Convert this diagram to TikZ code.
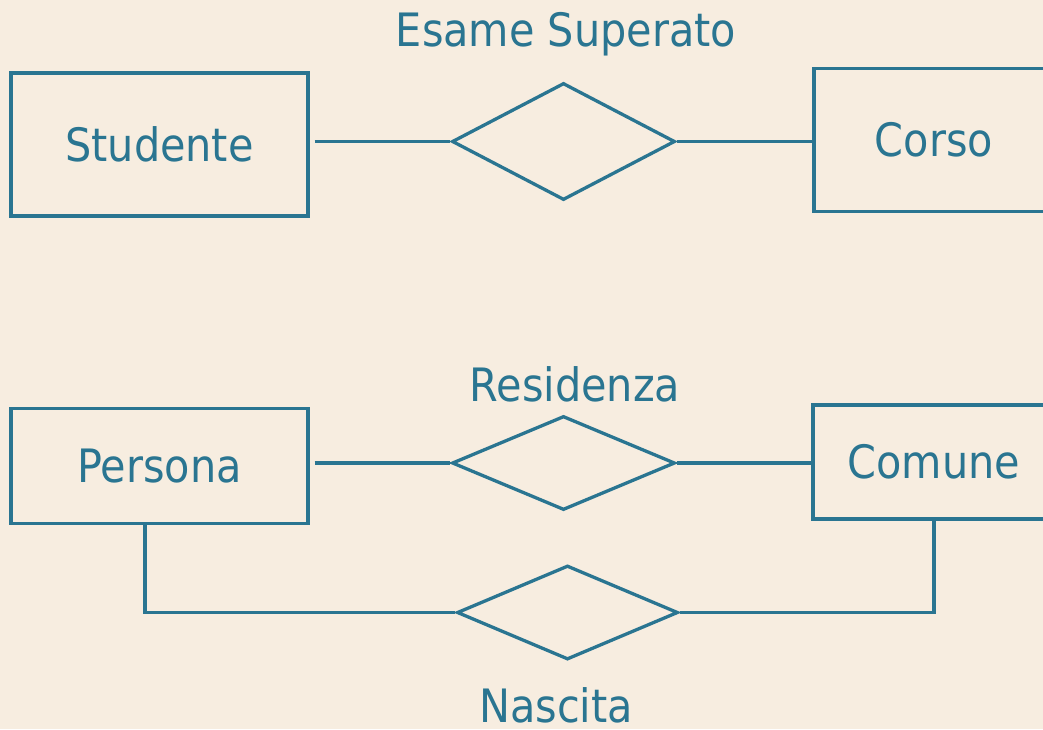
\documentclass[tikz,border=0pt]{standalone}
\usepackage{fontspec}
\setmainfont{DejaVu Sans Condensed}
\usetikzlibrary{shapes.geometric}
\definecolor{ink}{RGB}{42,117,145}
\definecolor{paper}{RGB}{247,237,224}
\tikzset{
  entity/.style={draw=ink, line width=3.3pt, rectangle, inner sep=0pt, text=ink,
    font=\fontsize{46}{55}\selectfont},
  relation/.style={draw=ink, line width=3.3pt, diamond, inner sep=0pt},
  lbl/.style={text=ink, font=\fontsize{46}{55}\selectfont, anchor=base, inner sep=0pt, text depth=0pt},
  link/.style={draw=ink, line width=3.3pt}
}
\begin{document}
\begin{tikzpicture}[x=1pt,y=-1pt]
\useasboundingbox (0,0) rectangle (1043,729);
\fill[paper] (0,0) rectangle (1043,729);
\clip (0,0) rectangle (1043,729);
% entities
\node[entity, minimum width=297pt, minimum height=143pt] (studente) at (159.5,144.5) {Studente};
\node[entity, minimum width=240pt, minimum height=143pt] (corso) at (934,140) {Corso};
\node[entity, minimum width=297pt, minimum height=115pt] (persona) at (159.5,466) {Persona};
\node[entity, minimum width=242pt, minimum height=114pt] (comune) at (934,462) {Comune};
% relations
\node[relation, minimum width=223pt, minimum height=117pt] (esame) at (563.5,141.5) {};
\node[relation, minimum width=223pt, minimum height=94pt] (residenza) at (563.5,463) {};
\node[relation, minimum width=221pt, minimum height=94pt] (nascita) at (567.5,612.5) {};
% labels
\node[lbl] (lesame) at (566,46) {Esame Superato};
\node[lbl] (lres) at (575,401) {Residenza};
\node[lbl] (lnas) at (556,722) {Nascita};
% connectors
\draw[link, shorten <=5pt] (studente.east |- esame.west) -- (esame.west);
\draw[link] (esame.east) -- (corso.west |- esame.east);
\draw[link, shorten <=5pt] (persona.east |- residenza.west) -- (residenza.west);
\draw[link] (residenza.east) -- (comune.west |- residenza.east);
\draw[link] ([xshift=-14.5pt]persona.south) |- (nascita.west);
\draw[link] (comune.south) |- (nascita.east);
\end{tikzpicture}
\end{document}
